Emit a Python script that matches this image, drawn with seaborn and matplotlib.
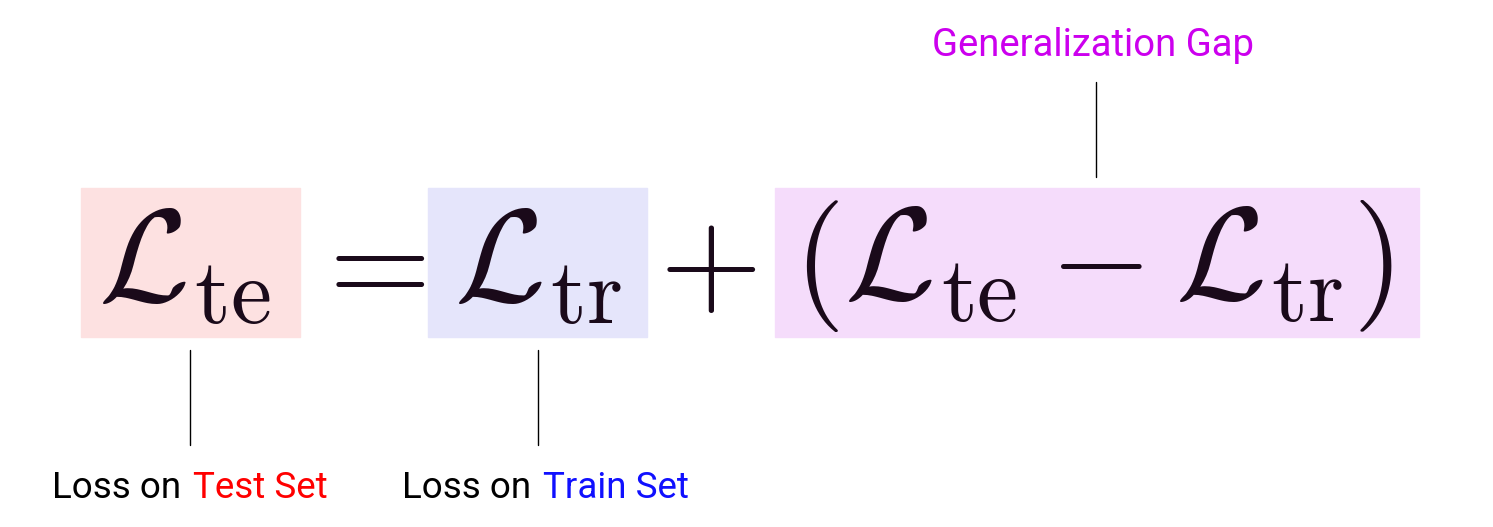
import matplotlib
matplotlib.use("Agg")
import matplotlib.pyplot as plt
import seaborn as sns
from matplotlib.patches import Rectangle

sns.set_theme(style="white")
plt.rcParams['font.family'] = ['Roboto', 'DejaVu Sans']
plt.rcParams['mathtext.fontset'] = 'cm'

# terms of the equation: (text, centre x)
terms = [r"$\mathcal{L}_{\mathrm{te}}$", r"$=$", r"$\mathcal{L}_{\mathrm{tr}}$", r"$+$",
         r"$(\mathcal{L}_{\mathrm{te}}-\mathcal{L}_{\mathrm{tr}})$"]
term_x = [185, 365, 538, 708, 1093]

# highlight boxes: (left, right, colour)
box_left = [81, 428, 775]
box_right = [300, 647, 1419]
box_colors = ["#fde1e1", "#e5e5fb", "#f5dcfb"]

fig = plt.figure(figsize=(14.93, 5.27), dpi=100)
ax = fig.add_axes([0, 0, 1, 1])
ax.set_xlim(0, 1493)
ax.set_ylim(527, 0)
ax.axis("off")

for l, r, c in zip(box_left, box_right, box_colors):
    ax.add_patch(Rectangle((l, 188), r - l, 149, color=c, zorder=0))

for t, x in zip(terms, term_x):
    ax.text(x, 266, t, fontsize=95, ha="center", va="center", color="#1a0a1a")

# connector lines
ax.plot([190, 190], [350, 445], color="black", lw=1)
ax.plot([538, 538], [350, 445], color="black", lw=1)
ax.plot([1096, 1096], [82, 177], color="black", lw=1)

fs = 26.5
ax.text(52, 488, "Loss on", fontsize=fs, va="center", ha="left", color="black")
ax.text(193, 488, "Test Set", fontsize=fs, va="center", ha="left", color="#ff0000")
ax.text(402, 488, "Loss on", fontsize=fs, va="center", ha="left", color="black")
ax.text(543, 488, "Train Set", fontsize=fs, va="center", ha="left", color="#1010ff")
ax.text(1093, 46, "Generalization Gap", fontsize=27.5, va="center", ha="center", color="#cc00ee")

fig.savefig("out.png", dpi=100)
